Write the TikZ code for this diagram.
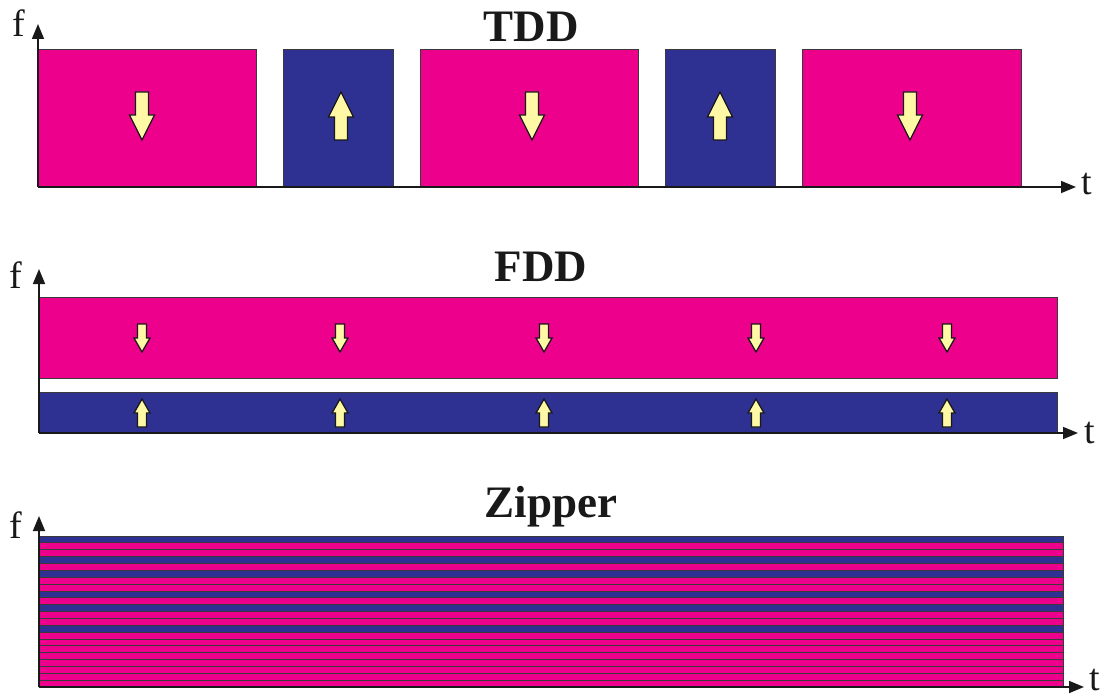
\documentclass[tikz,border=0pt]{standalone}
\usepackage{fontspec}
\setmainfont{Liberation Serif}
\usetikzlibrary{arrows.meta}
\definecolor{dlpink}{HTML}{EC008C}
\definecolor{ulblue}{HTML}{2E3192}
\definecolor{arryel}{HTML}{FFF9A6}
\definecolor{edgegray}{HTML}{3A3A3A}
\tikzset{
  band/.style={draw=edgegray, line width=1pt},
  dlband/.style={band, fill=dlpink},
  ulband/.style={band, fill=ulblue},
  dlfill/.style={fill=dlpink},
  ulfill/.style={fill=ulblue},
  sepline/.style={draw=edgegray, line width=0.8pt},
  axisline/.style={line width=1.6pt, draw=black!90, -{Triangle[length=15pt,width=12pt]}},
  title/.style={font=\fontsize{45}{54}\selectfont\bfseries, text=black!90, anchor=base, inner sep=0pt},
  axlabel/.style={font=\fontsize{38}{44}\selectfont, text=black!90, anchor=base, inner sep=0pt},
  yarrow/.style={fill=arryel, draw=black!90, line width=1.3pt, line join=miter},
  pics/bigdown/.style={code={
    \path[yarrow] (-6.5,-24) -- (6.5,-24) -- (6.5,-1) -- (12.5,-1) -- (0,24) -- (-12.5,-1) -- (-6.5,-1) -- cycle;}},
  pics/bigup/.style={code={
    \path[yarrow] (-6.5,24) -- (6.5,24) -- (6.5,1) -- (12.5,1) -- (0,-24) -- (-12.5,1) -- (-6.5,1) -- cycle;}},
  pics/smalldown/.style={code={
    \path[yarrow] (-4.5,-14) -- (4.5,-14) -- (4.5,0) -- (8,0) -- (0,14) -- (-8,0) -- (-4.5,0) -- cycle;}},
  pics/smallup/.style={code={
    \path[yarrow] (-4.5,14) -- (4.5,14) -- (4.5,0) -- (8,0) -- (0,-14) -- (-8,0) -- (-4.5,0) -- cycle;}},
}
\begin{document}
\begin{tikzpicture}[x=1pt,y=-1pt]
\useasboundingbox (0,0) rectangle (1104,698);

% ---------------- TDD ----------------
\path[dlband] (38,50) rectangle (256,187);
\path[ulband] (283,50) rectangle (393,187);
\path[dlband] (420,50) rectangle (638,187);
\path[ulband] (665,50) rectangle (775,187);
\path[dlband] (802,50) rectangle (1021,187);
\pic at (142,116) {bigdown};
\pic at (341,116) {bigup};
\pic at (532,116) {bigdown};
\pic at (720,116) {bigup};
\pic at (910,116) {bigdown};
\coordinate (o1) at (38,187);
\coordinate (f1) at (38,24);
\coordinate (t1) at (1076,187);
\draw[axisline] (o1) -- (f1);
\draw[axisline] (o1) -- (t1);
\node[title] (tdd) at (531,42) {TDD};
\node[axlabel] (lf1) at (19,37) {f};
\node[axlabel] (lt1) at (1087,195) {t};

% ---------------- FDD ----------------
\path[dlband] (39,297) rectangle (1057,378);
\path[ulband] (39,392) rectangle (1057,433);
\foreach \x in {142,340,544,756,947} {
  \pic at (\x,338) {smalldown};
  \pic at (\x,413) {smallup};
}
\coordinate (o2) at (39,433);
\coordinate (f2) at (39,269);
\coordinate (t2) at (1078,433);
\draw[axisline] (o2) -- (f2);
\draw[axisline] (o2) -- (t2);
\node[title] (fdd) at (541,281) {FDD};
\node[axlabel] (lf2) at (16,288) {f};
\node[axlabel] (lt2) at (1090,443) {t};

% ---------------- Zipper ----------------
\def\stripeh{6.864}
\foreach \c [count=\i from 0] in {U,D,D,U,D,U,D,D,U,D,U,D,D,U,D,D,D,D,D,D,D,D} {
  \pgfmathsetmacro{\ya}{536+\i*\stripeh}
  \pgfmathsetmacro{\yb}{536+(\i+1)*\stripeh}
  \if\c U
    \path[ulfill] (39,\ya) rectangle (1063,\yb);
  \else
    \path[dlfill] (39,\ya) rectangle (1063,\yb);
  \fi
}
\foreach \i in {1,...,21} {
  \pgfmathsetmacro{\ys}{536+\i*\stripeh}
  \path[sepline] (39,\ys) -- (1063,\ys);
}
\path[band] (39,536) rectangle (1063,687);
\coordinate (o3) at (39,687);
\coordinate (f3) at (39,516);
\coordinate (t3) at (1084,687);
\draw[axisline] (o3) -- (f3);
\draw[axisline] (o3) -- (t3);
\node[title] (zip) at (551,517) {Zipper};
\node[axlabel] (lf3) at (16,538) {f};
\node[axlabel] (lt3) at (1095,690) {t};
\end{tikzpicture}
\end{document}
